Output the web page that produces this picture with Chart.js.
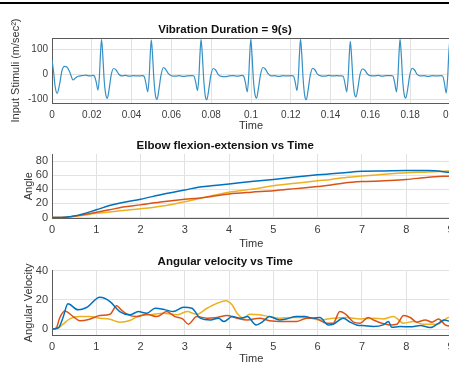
<!DOCTYPE html>
<html>
<head>
<meta charset="utf-8">
<script src="https://cdn.jsdelivr.net/npm/chart.js@4.4.0/dist/chart.umd.min.js"></script>
<style>
  html, body { margin: 0; padding: 0; background: #fff; width: 449px; height: 378px; overflow: hidden; position: relative; }
  canvas { position: absolute; left: 0; }
  #rule { position: absolute; left: 0; top: 2px; width: 449px; height: 2px; background: #000; }
</style>
</head>
<body>
<div id="rule"></div>
<canvas id="stim" width="470" height="123" style="top:10px"></canvas>
<canvas id="angle" width="470" height="119" style="top:132px"></canvas>
<canvas id="vel" width="470" height="115" style="top:251px"></canvas>
<script>
// ---- data ----
const stimTime = [
  0, 0.0008, 0.0016, 0.0026, 0.0038, 0.0050, 0.0062, 0.0075, 0.0090, 0.0106, 0.0118, 0.0132, 0.0150, 0.0170, 0.0190, 0.0205,
  0.0213, 0.0222, 0.0231, 0.0238, 0.0244, 0.0249, 0.0255, 0.0262, 0.0270, 0.0278, 0.0287, 0.0298, 0.0310, 0.0322, 0.0335, 0.0350, 0.0370, 0.0390, 0.0410, 0.0430, 0.0455,
  0.0463, 0.0472, 0.0481, 0.0488, 0.0494, 0.0499, 0.0505, 0.0512, 0.0520, 0.0528, 0.0537, 0.0548, 0.0560, 0.0572, 0.0585, 0.0600, 0.0620, 0.0640, 0.0660, 0.0680, 0.0705,
  0.0713, 0.0722, 0.0731, 0.0738, 0.0744, 0.0749, 0.0755, 0.0762, 0.0770, 0.0778, 0.0787, 0.0798, 0.0810, 0.0822, 0.0835, 0.0850, 0.0870, 0.0890, 0.0910, 0.0930, 0.0955,
  0.0963, 0.0972, 0.0981, 0.0988, 0.0994, 0.0999, 0.1005, 0.1012, 0.1020, 0.1028, 0.1037, 0.1048, 0.1060, 0.1072, 0.1085, 0.1100, 0.1120, 0.1140, 0.1160, 0.1180, 0.1205,
  0.1213, 0.1222, 0.1231, 0.1238, 0.1244, 0.1249, 0.1255, 0.1262, 0.1270, 0.1278, 0.1287, 0.1298, 0.1310, 0.1322, 0.1335, 0.1350, 0.1370, 0.1390, 0.1410, 0.1430, 0.1455,
  0.1463, 0.1472, 0.1481, 0.1488, 0.1494, 0.1499, 0.1505, 0.1512, 0.1520, 0.1528, 0.1537, 0.1548, 0.1560, 0.1572, 0.1585, 0.1600, 0.1620, 0.1640, 0.1660, 0.1680, 0.1705,
  0.1713, 0.1722, 0.1731, 0.1738, 0.1744, 0.1749, 0.1755, 0.1762, 0.1770, 0.1778, 0.1787, 0.1798, 0.1810, 0.1822, 0.1835, 0.1850, 0.1870, 0.1890, 0.1910, 0.1930, 0.1955,
  0.1963, 0.1972, 0.1981, 0.1988, 0.1994, 0.1999
];
const stimValue = [
  58, 10, -50, -76, -40, 15, 33, 30, 8, -22, -14, -7, -5, -3, -6, -4,
  -6, -30, -63, -10, 90, 142, 80, -20, -80, -96, -60, 0, 24, 18, 2, -6, -4, -7, -5, -6, -5,
  -8, -35, -70, -15, 85, 140, 82, -18, -85, -100, -62, -2, 28, 20, 3, -5, -7, -5, -8, -6, -5,
  -6, -30, -65, -12, 88, 142, 85, -15, -85, -102, -65, -5, 24, 18, 0, -8, -9, -6, -5, -7, -4,
  -7, -33, -70, -15, 85, 142, 80, -20, -80, -95, -58, 0, 28, 22, 4, -6, -5, -8, -5, -6, -5,
  -6, -30, -65, -10, 90, 143, 82, -18, -85, -102, -62, -3, 25, 18, 0, -6, -7, -4, -6, -5, -6,
  -7, -35, -70, -15, 80, 133, 78, -18, -78, -90, -55, 0, 22, 17, 2, -5, -6, -4, -7, -5, -5,
  -6, -33, -70, -12, 88, 143, 82, -20, -82, -95, -60, -2, 25, 18, 0, -6, -5, -8, -5, -6, -5,
  -6, -35, -75, -15, 85, 140
];
const stimTicksX = [0, 0.02, 0.04, 0.06, 0.08, 0.1, 0.12, 0.14, 0.16, 0.18, 0.2];
const stimTicksY = [-100, 0, 100];

const angleTime = [0, 0.3, 0.6, 1, 1.3, 1.6, 2, 2.5, 3, 3.3, 3.6, 4, 4.5, 5, 5.5, 6, 6.3, 6.6, 7, 7.5, 8, 8.5, 9];
const angleBlue   = [0, 0.5, 3.5, 11, 17, 21.5, 26, 33, 39, 43, 45, 47.5, 51, 54, 57.5, 60.5, 62, 63.5, 65.5, 66, 66.5, 66.5, 64];
const angleRed    = [0, 0.5, 3, 7.5, 11, 15, 18, 22.5, 26, 27.5, 30, 33.5, 36, 38, 41, 44, 46, 49, 51, 52, 54, 57, 59];
const angleYellow = [0, 0.3, 2.5, 6, 8, 10, 12.5, 16.5, 22.5, 26.5, 31, 36, 40, 45, 48.5, 52, 54, 56.5, 59, 61.5, 63.5, 64.5, 66];
const angleTicksY = [0, 20, 40, 60, 80];

const velBlueT = [0, 0.15, 0.25, 0.36, 0.59, 0.78, 1.08, 1.31, 1.53, 1.76, 1.95, 2.14, 2.33, 2.56, 2.74, 2.97, 3.16, 3.35, 3.58, 3.76, 3.88, 4.07, 4.26, 4.41, 4.61, 4.76, 4.91, 5.14, 5.29, 5.52, 5.71, 5.9, 6.05, 6.24, 6.35, 6.58, 6.73, 6.88, 7.07, 7.26, 7.48, 7.6, 7.67, 7.86, 8.09, 8.32, 8.54, 8.73, 8.85, 9.0];
const velBlue  = [0, 1, 8, 17.3, 13.2, 14.8, 21.8, 18.9, 12, 9.8, 12, 10.9, 14.3, 13.2, 12, 15, 14.3, 7.5, 6.3, 7.5, 5.2, 8.6, 7.5, 8.6, 2.9, 5.2, 8.6, 6.3, 7, 8.6, 8.6, 7.5, 8, 2.9, 3.4, 7.5, 4.8, 2.9, 2.3, 1.8, 2.9, 5.2, 1.3, 1.8, 1.6, 2.5, 1.1, 4, 6.3, 5.2];
const velRedT = [0, 0.1, 0.17, 0.29, 0.48, 0.63, 0.85, 1.08, 1.31, 1.46, 1.57, 1.72, 1.91, 2.14, 2.37, 2.59, 2.78, 2.95, 3.08, 3.27, 3.5, 3.73, 3.95, 4.18, 4.41, 4.69, 4.91, 5.22, 5.52, 5.75, 5.93, 6.2, 6.35, 6.5, 6.65, 6.81, 6.96, 7.14, 7.26, 7.45, 7.63, 7.79, 7.94, 8.09, 8.24, 8.43, 8.58, 8.73, 8.88, 9.0];
const velRed   = [0, 1, 7.5, 12.5, 8.6, 5.7, 6.8, 9.3, 10.2, 16, 13, 9.8, 8.6, 10.2, 8.6, 12, 8.6, 7, 3.4, 8.6, 7.5, 8, 9.3, 7.5, 6.3, 7.5, 5.7, 5.2, 5.2, 7.5, 7.5, 4.1, 4.1, 12, 9.8, 4.8, 4.1, 8, 6.3, 4.1, 2.9, 3.4, 9.3, 8, 4.8, 6.3, 4.8, 7, 2.9, 1.8];
const velYellowT = [0, 0.12, 0.25, 0.4, 0.63, 0.85, 1.08, 1.31, 1.53, 1.76, 1.99, 2.21, 2.52, 2.82, 3.05, 3.27, 3.5, 3.73, 3.92, 4.07, 4.18, 4.33, 4.46, 4.69, 4.91, 5.14, 5.44, 5.75, 6.05, 6.35, 6.65, 6.96, 7.26, 7.48, 7.71, 7.94, 8.16, 8.39, 8.69, 8.92, 9.0];
const velYellow  = [0, 0.5, 3.4, 7, 8.6, 8.6, 7.5, 6.8, 4.8, 5.9, 9.3, 9.8, 10.9, 9.8, 12, 10.2, 14.3, 17.7, 19.5, 16.6, 10.9, 7.5, 10.2, 9.8, 8.6, 7.5, 8, 8, 6.3, 7.5, 8, 7, 7.5, 7, 8.6, 4.1, 5.2, 3.4, 3.4, 7.5, 8.6];
const velTicksY = [0, 20, 40];

const timeTicks = [0, 1, 2, 3, 4, 5, 6, 7, 8, 9];

// ---- styling ----
const FONT = "'Liberation Sans', Arial, Helvetica, sans-serif";
const GRID = '#e2e2e2';
const AXIS = '#5a5a5a';
const TICK = '#3c3c3c';
Chart.defaults.font.family = FONT;
Chart.defaults.animation = false;

function pts(xs, ys) {
  return xs.map((x, i) => ({ x: x, y: ys[i] }));
}

function line(color, xs, ys, width) {
  return {
    data: pts(xs, ys),
    borderColor: color,
    borderWidth: width,
    pointRadius: 0,
    fill: false,
    cubicInterpolationMode: 'monotone'
  };
}

function xAxis(min, max, ticks, h, tickSize, pad) {
  return {
    type: 'linear', min: min, max: max,
    afterBuildTicks: s => { s.ticks = ticks.map(v => ({ value: v })); },
    afterFit: s => { s.height = h; },
    grid: { color: GRID, drawTicks: false },
    border: { color: AXIS, width: 1 },
    ticks: { padding: pad, color: TICK, font: { size: tickSize }, maxRotation: 0, autoSkip: false, callback: v => String(v) },
    title: { display: true, text: 'Time', color: '#333', padding: 0, font: { size: 11 } }
  };
}

function yAxis(min, max, ticks, label, titlePad, tickSize) {
  return {
    min: min, max: max,
    afterBuildTicks: s => { s.ticks = ticks.map(v => ({ value: v })); },
    afterFit: s => { s.width = 52; },
    grid: { color: GRID, drawTicks: false },
    border: { color: AXIS, width: 1 },
    ticks: { padding: 4, color: TICK, font: { size: tickSize }, autoSkip: false, callback: v => String(v) },
    title: { display: true, text: label, color: '#333', padding: { top: titlePad, bottom: 0 }, font: { size: 11 } }
  };
}

function titleOpts(text, top, bottom) {
  return {
    display: true, text: text, color: '#111',
    font: { size: 11.5, weight: 'bold' },
    padding: { top: top, bottom: bottom }
  };
}

const topBorder = {
  id: 'topBorder',
  afterDraw(chart) {
    const { ctx, chartArea: a } = chart;
    ctx.save();
    ctx.strokeStyle = AXIS;
    ctx.lineWidth = 1;
    ctx.beginPath();
    ctx.moveTo(a.left, Math.round(a.top) + 0.5);
    ctx.lineTo(a.right, Math.round(a.top) + 0.5);
    ctx.stroke();
    ctx.restore();
  }
};

new Chart(document.getElementById('stim'), {
  type: 'line',
  data: { datasets: [line('#3590c6', stimTime, stimValue, 1.2)] },
  options: {
    responsive: false,
    layout: { padding: { left: 0, right: 20, top: 0, bottom: 0 } },
    plugins: { legend: { display: false }, tooltip: { enabled: false },
      title: titleOpts('Vibration Duration = 9(s)', 13.1, 1.1) },
    scales: {
      x: xAxis(0, 0.2, stimTicksX, 30, 10, 6),
      y: yAxis(-115, 147, stimTicksY, 'Input Stimuli (m/sec²)', 9.4, 10)
    }
  },
  plugins: [topBorder]
});

new Chart(document.getElementById('angle'), {
  type: 'line',
  data: { datasets: [
    line('#0072BD', angleTime, angleBlue, 1.5),
    line('#D95319', angleTime, angleRed, 1.5),
    line('#EDB120', angleTime, angleYellow, 1.5)
  ] },
  options: {
    responsive: false,
    layout: { padding: { left: 0, right: 19.5, top: 0, bottom: 0 } },
    plugins: { legend: { display: false }, tooltip: { enabled: false },
      title: titleOpts('Elbow flexion-extension vs Time', 7.1, 1.1) },
    scales: {
      x: xAxis(0, 9, timeTicks, 32.7, 11, 5),
      y: yAxis(-1, 90, angleTicksY, 'Angle', 22.4, 11)
    }
  }
});

new Chart(document.getElementById('vel'), {
  type: 'line',
  data: { datasets: [
    line('#0072BD', velBlueT, velBlue, 1.5),
    line('#D95319', velRedT, velRed, 1.5),
    line('#EDB120', velYellowT, velYellow, 1.5)
  ] },
  options: {
    responsive: false,
    layout: { padding: { left: 0, right: 19.5, top: 0, bottom: 0 } },
    plugins: { legend: { display: false }, tooltip: { enabled: false },
      title: titleOpts('Angular velocity vs Time', 4.4, 1.5) },
    scales: {
      x: xAxis(0, 9, timeTicks, 31, 11, 5),
      y: yAxis(-4, 40, velTicksY, 'Angular Velocity', 22.4, 11)
    }
  }
});
</script>
</body>
</html>
